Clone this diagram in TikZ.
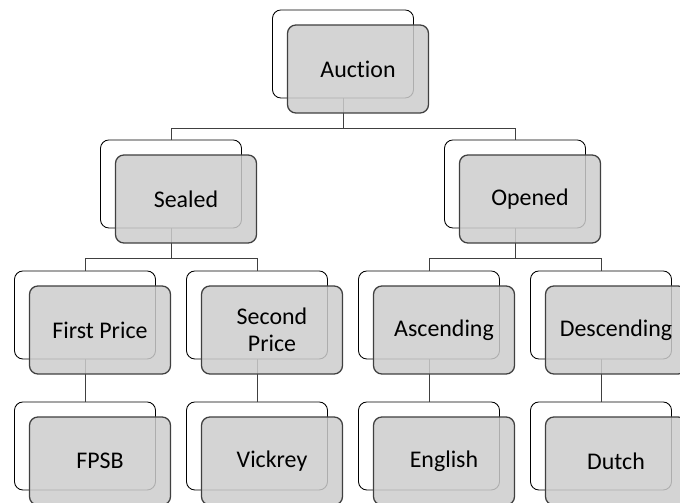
\documentclass[tikz,border=0pt]{standalone}
\usepackage{fontspec}
\setmainfont{Carlito}[Ligatures=NoCommon]
\usetikzlibrary{positioning}

\begin{document}
\begin{tikzpicture}[x=0.025cm, y=-0.025cm,
      font=\fontsize{17}{19.5}\selectfont,
      frame/.style={rectangle, rounded corners=6pt, draw=black, line width=0.6pt,
                    minimum width=3.525cm, minimum height=2.2cm},
      box/.style={rectangle, rounded corners=6pt, draw=black!75, line width=0.9pt,
                  fill=black!20, fill opacity=0.85, text opacity=1,
                  minimum width=3.525cm, minimum height=2.2cm, align=center},
      elbow/.style={draw=black!75, line width=0.7pt,
                    to path={(\tikztostart) -- ++(0,30) -| (\tikztotarget)}},
    ]

    \clip (0,0) rectangle (680,503);

    % Back frames
    \node[frame] (auctionB) at (343,54) {};
    \node[frame] (sealedB) at (171,184) {};
    \node[frame] (openedB) at (515,184) {};
    \node[frame] (firstB) at (85,315) {};
    \node[frame] (secondB) at (257,315) {};
    \node[frame] (ascB) at (429,315) {};
    \node[frame] (descB) at (601,315) {};
    \node[frame] (fpsbB) at (85,446) {};
    \node[frame] (vickreyB) at (257,446) {};
    \node[frame] (englishB) at (429,446) {};
    \node[frame] (dutchB) at (601,446) {};

    % Connectors
    \draw[elbow] (auctionB.south) to (sealedB.north);
    \draw[elbow] (auctionB.south) to (openedB.north);
    \draw[elbow] (sealedB.south) to (firstB.north);
    \draw[elbow] (sealedB.south) to (secondB.north);
    \draw[elbow] (openedB.south) to (ascB.north);
    \draw[elbow] (openedB.south) to (descB.north);
    \draw[black!75, line width=0.7pt] (firstB.south) -- (fpsbB.north);
    \draw[black!75, line width=0.7pt] (secondB.south) -- (vickreyB.north);
    \draw[black!75, line width=0.7pt] (ascB.south) -- (englishB.north);
    \draw[black!75, line width=0.7pt] (descB.south) -- (dutchB.north);

    % Front boxes
    \node[box] (auction) at (358,69) {Auction};
    \node[box] (sealed) at (186,199) {Sealed};
    \node[box] (opened) at (530,199) {Opened};
    \node[box] (first) at (100,330) {First Price};
    \node[box] (second) at (272,330) {Second\\Price};
    \node[box] (asc) at (444,330) {Ascending};
    \node[box] (desc) at (616,330) {Descending};
    \node[box] (fpsb) at (100,461) {FPSB};
    \node[box] (vickrey) at (272,461) {Vickrey};
    \node[box] (english) at (444,461) {English};
    \node[box] (dutch) at (616,461) {Dutch};

  \end{tikzpicture}
\end{document}
